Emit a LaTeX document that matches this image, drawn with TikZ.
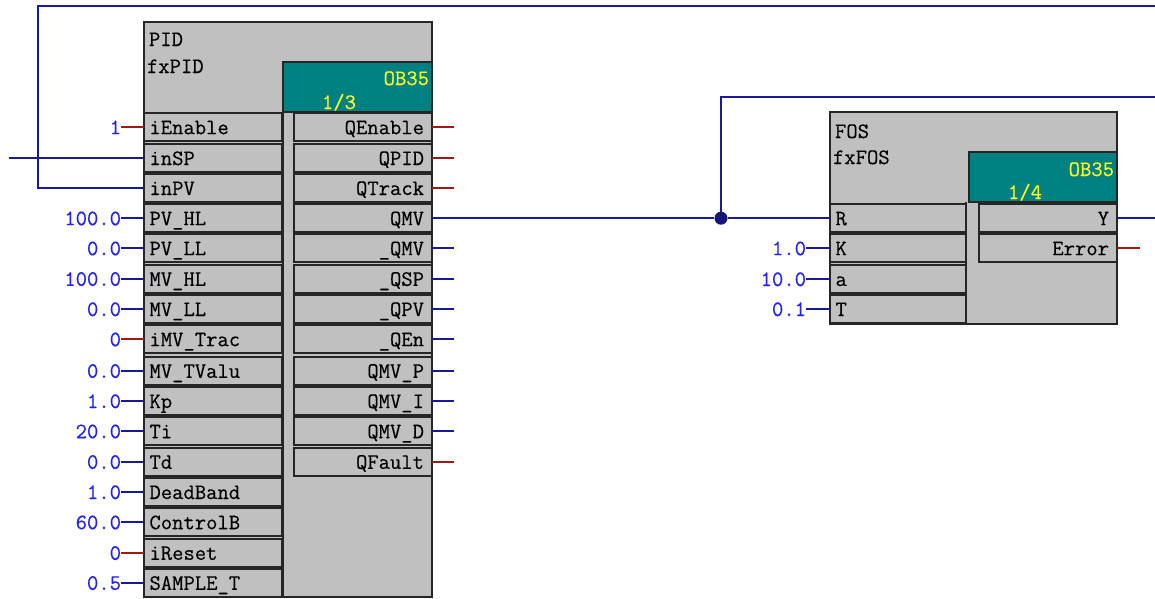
\documentclass[tikz,border=0pt]{standalone}
\usepackage{fontspec}
\newfontfamily\pinfont[FakeBold=0.35]{Latin Modern Mono}
\definecolor{bodygray}{HTML}{C0C0C0}
\definecolor{edgedark}{HTML}{262626}
\definecolor{tealbox}{HTML}{008080}
\definecolor{wireblue}{HTML}{1A1A96}
\definecolor{wirered}{HTML}{A01818}
\definecolor{valblue}{HTML}{2222F0}
\definecolor{yel}{HTML}{FFFF20}
\tikzset{
  x=1pt,y=-1pt,
  body/.style={draw=edgedark,fill=bodygray,line width=2pt,inner sep=0pt,outer sep=0pt,anchor=north west},
  tealpanel/.style={fill=tealbox,draw=edgedark,line width=2pt,inner sep=0pt,outer sep=0pt,anchor=north west},
  pintext/.style={font=\fontsize{22}{22}\selectfont\pinfont,text height=14pt,text depth=0pt,inner sep=0pt,outer sep=0pt},
  pinbase/.style={pintext,draw=edgedark,fill=bodygray,line width=2pt,minimum height=28.5pt,
    path picture={\draw[white,line width=2.4pt]
      (path picture bounding box.south west) -- (path picture bounding box.north west) -- (path picture bounding box.north east);}},
  pinL/.style={pinbase,anchor=west,text width=#1,align=left,inner xsep=5.5pt},
  pinR/.style={pinbase,anchor=east,text width=#1,align=right,inner xsep=8pt},
  val/.style={pintext,text=valblue,anchor=east},
  head/.style={pintext,anchor=west},
  yeltext/.style={pintext,text=yel},
  wire/.style={draw=wireblue,line width=1.8pt},
  wireb/.style={draw=wirered,line width=1.8pt},
  dot/.style={circle,fill=wireblue!80!black,inner sep=0pt,minimum size=13pt},
}
\begin{document}
\begin{tikzpicture}
\useasboundingbox[fill=white] (0,0) rectangle (1155,598);
% --- PID block
\node[body,minimum width=288pt,minimum height=575pt] (pidbody) at (144,22) {};
\node[tealpanel,minimum width=149pt,minimum height=50pt] (pidteal) at (283,61.5) {};
\node[head] (pidname) at (149,39) {PID};
\node[head] (pidfx) at (147,66) {fxPID};
\node[yeltext,anchor=east] (pidob) at (429,78) {OB35};
\node[yeltext,anchor=west] (pidseq) at (322,102) {1/3};
\draw[edgedark,line width=2pt] (pidteal.south west) -- (pidbody.south west -| pidteal.south west);
% left pins
\foreach \n/\y/\t/\v/\c in {
  1/127.2/iEnable/1/wireb,
  2/158/inSP//wire,
  3/188/inPV//wire,
  4/218.2/PV\_HL/100.0/wire,
  5/248.2/PV\_LL/0.0/wire,
  6/278.8/MV\_HL/100.0/wire,
  7/309/MV\_LL/0.0/wire,
  8/339.2/iMV\_Trac/0/wireb,
  9/370.8/MV\_TValu/0.0/wire,
  10/401/Kp/1.0/wire,
  11/431.2/Ti/20.0/wire,
  12/461.8/Td/0.0/wire,
  13/492/DeadBand/1.0/wire,
  14/522.2/ControlB/60.0/wire,
  15/552.8/iReset/0/wireb,
  16/582.8/SAMPLE\_T/0.5/wire}{
  \node[pinL=127pt] (L\n) at (144,\y) {\t};
  \if\relax\detokenize\expandafter{\v}\relax\else
    \node[val] (V\n) at (121,\y) {\v};
    \draw[\c] (V\n.east) -- (L\n.west);
  \fi
}
% right pins
\foreach \n/\y/\t/\c in {
  1/127.2/QEnable/wireb,
  2/158/QPID/wireb,
  3/188/QTrack/wireb,
  4/218.2/QMV/wire,
  5/248.2/\_QMV/wire,
  6/278.8/\_QSP/wire,
  7/309/\_QPV/wire,
  8/339.2/\_QEn/wire,
  9/370.8/QMV\_P/wire,
  10/401/QMV\_I/wire,
  11/431.2/QMV\_D/wire,
  12/461.8/QFault/wireb}{
  \node[pinR=122pt] (R\n) at (432,\y) {\t};
  \ifnum\n=4\relax\else
    \coordinate (E\n) at (454,\y);
    \draw[\c] (R\n.east) -- (E\n);
  \fi
}
% --- FOS block
\node[body,minimum width=287pt,minimum height=212pt] (fosbody) at (830,112) {};
\node[tealpanel,minimum width=148pt,minimum height=50pt] (fosteal) at (969,152) {};
\node[head] (fosname) at (835,131) {FOS};
\node[head] (fosfx) at (833,157) {fxFOS};
\node[yeltext,anchor=east] (fosob) at (1114,169) {OB35};
\node[yeltext,anchor=west] (fosseq) at (1008,192) {1/4};
\draw[edgedark,line width=2pt] (966,202) -- (966,324);
\node[pinL=125pt] (FR) at (830,218.2) {R};
\foreach \n/\y/\t/\v in {K/248.2/K/1.0, A/279/a/10.0, T/309/T/0.1}{
  \node[pinL=125pt] (F\n) at (830,\y) {\t};
  \node[val] (FV\n) at (806,\y) {\v};
  \draw[wire] (FV\n.east) -- (F\n.west);
}
\node[pinR=122pt] (FY) at (1117,218.2) {Y};
\node[pinR=122pt] (FE) at (1117,248.2) {Error};
% --- connectors
\coordinate (inSPend) at (9,158);
\draw[wire] (inSPend) -- (L2.west);
\coordinate (fbcorner) at (38,6);
\coordinate (fbend) at (1155,6);
\draw[wire] (L3.west) -| (fbcorner) -- (fbend);
\node[dot] (junction) at (721,218.2) {};
\draw[wire] (R4.east) -- (junction) -- (FR.west);
\coordinate (upcorner) at (721,97);
\coordinate (upend) at (1155,97);
\draw[wire] (junction) -- (upcorner) -- (upend);
\coordinate (yend) at (1155,218.2);
\draw[wire] (FY.east) -- (yend);
\coordinate (eend) at (1140,248.2);
\draw[wireb] (FE.east) -- (eend);
\end{tikzpicture}
\end{document}
